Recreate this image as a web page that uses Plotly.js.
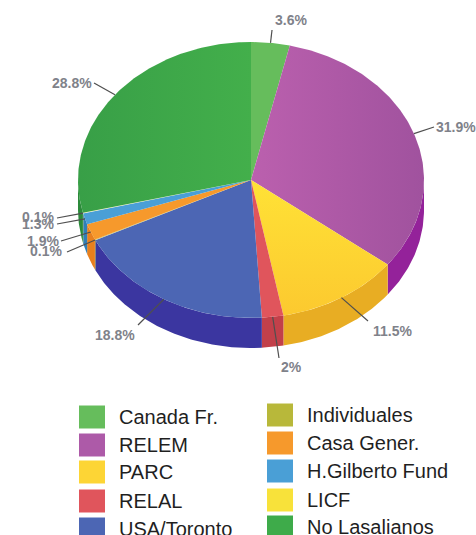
<!DOCTYPE html>
<html>
<head>
<meta charset="utf-8">
<script src="https://cdn.plot.ly/plotly-3.0.1.min.js"></script>
<style>html,body{margin:0;padding:0;background:#fff}#c{width:476px;height:535px}</style>
</head>
<body>
<div id="c"></div>
<script>
// Data
const categories = ["Canada Fr.","RELEM","PARC","RELAL","USA/Toronto","Individuales","Casa Gener.","H.Gilberto Fund","LICF","No Lasalianos"];
const shares = [3.6,31.9,11.5,2,18.8,0.1,1.9,1.3,0.1,28.8];
const shareLabels = ["3.6%","31.9%","11.5%","2%","18.8%","0.1%","1.9%","1.3%","0.1%","28.8%"];
const topColors = ["#66bd5c","#ad5aa8","#fdd535","#e0555c","#4c66b4","#b8b83a","#f6992c","#4a9fd6","#f8e23a","#3eab4a"];
const wallColors = ["#4f9a45","#94229a","#e8ad23","#c2404a","#3b36a0","#8f8f25","#e8801e","#2f7fb8","#d8c020","#2b8a3a"];

// Soft shading on the large top faces: [category, direction, from colour, to colour]
const shading = [
  ["RELEM","horizontal","#bb60ae","#a0529e"],
  ["PARC","vertical","#fcc92f","#ffe236"],
  ["No Lasalianos","horizontal","#389f47","#43af4b"]
];

// Geometry of the tilted disc, in page pixels
const cx = 251, cy = 180, rx = 173, ry = 138, depth = 30;
// Leader end and label centre for each slice
const leaderEnd = [[272,30],[434,127],[368,321],[279,358],[138,325],[67,252],[61,241],[57,224],[57,218],[94,83]];
const labelAt = [[291,20],[456,127],[392,331],[291,367],[115,335],[46,251],[43,241],[38,224],[38,217],[72,83]];

const pt = (deg, dy) => {
  const a = deg * Math.PI / 180;
  return [cx + rx * Math.sin(a), cy - ry * Math.cos(a) + (dy || 0)];
};
const arc = (a0, a1, dy) => {
  const n = Math.max(2, Math.ceil(Math.abs(a1 - a0) * 1.5));
  const out = [];
  for (let i = 0; i <= n; i++) out.push(pt(a0 + (a1 - a0) * i / n, dy));
  return out;
};
const total = shares.reduce((s, v) => s + v, 0);
const traces = [];
let run = 0;
const spans = shares.map(v => { const a0 = run / total * 360; run += v; return [a0, run / total * 360]; });

// Side walls (only the front half of the disc shows them)
spans.forEach((sp, i) => {
  const a0 = Math.max(sp[0], 90), a1 = Math.min(sp[1], 270);
  if (a1 <= a0) return;
  const poly = arc(a0, a1, 0).concat(arc(a1, a0, depth));
  traces.push({type:"scatter", mode:"lines", x:poly.map(p=>p[0]), y:poly.map(p=>p[1]),
    fill:"toself", fillcolor:wallColors[i], line:{width:0}, hoverinfo:"skip", showlegend:false});
});
// Top faces
spans.forEach((sp, i) => {
  const poly = [[cx, cy]].concat(arc(sp[0], sp[1], 0)).concat([[cx, cy]]);
  const t = {type:"scatter", mode:"lines", name:categories[i], x:poly.map(p=>p[0]), y:poly.map(p=>p[1]),
    fill:"toself", fillcolor:topColors[i], line:{width:0}, hoverinfo:"name", showlegend:false};
  const s = shading.find(r => r[0] === categories[i]);
  if (s) t.fillgradient = {type:s[1], colorscale:[[0,s[2]],[1,s[3]]]};
  traces.push(t);
});
// Leaders
spans.forEach((sp, i) => {
  const s = pt((sp[0] + sp[1]) / 2, 0);
  traces.push({type:"scatter", mode:"lines", x:[s[0], leaderEnd[i][0]], y:[s[1], leaderEnd[i][1]],
    line:{color:"#4f4f4f", width:1.2}, hoverinfo:"skip", showlegend:false});
});
// Key
const keyLeft = [79, 267], keyY = [[417,445,472,501,529],[415,443,471,500,527]], keyTextX = [117, 305];
const keyW = 26, keyH = 23;
const keyPos = i => { const col = i < 5 ? 0 : 1, row = i % 5; return [keyLeft[col], keyY[col][row], keyTextX[col]]; };
const shapes = categories.map((c, i) => { const k = keyPos(i);
  return {type:"rect", xref:"x", yref:"y", x0:k[0], x1:k[0]+keyW, y0:k[1]-keyH/2, y1:k[1]+keyH/2, fillcolor:topColors[i], line:{width:0}}; });

const annotations = [];
shareLabels.forEach((t, i) => annotations.push({x:labelAt[i][0], y:labelAt[i][1], xref:"x", yref:"y", text:t, showarrow:false,
  xanchor:"center", yanchor:"middle", font:{family:"Liberation Sans", size:14, color:"#7f828a", weight:700}}));
categories.forEach((c, i) => { const k = keyPos(i);
  annotations.push({x:k[2], y:k[1], xref:"x", yref:"y", text:c, showarrow:false, xanchor:"left", yanchor:"middle",
    font:{family:"Liberation Sans", size:20, color:"#1f1f1f"}}); });

Plotly.newPlot("c", traces, {
  width:476, height:535, margin:{l:0,r:0,t:0,b:0}, paper_bgcolor:"#ffffff", plot_bgcolor:"#ffffff", showlegend:false,
  xaxis:{range:[0,476], visible:false, fixedrange:true},
  yaxis:{range:[535,0], visible:false, fixedrange:true},
  annotations, shapes
}, {displayModeBar:false});
</script>
</body>
</html>
